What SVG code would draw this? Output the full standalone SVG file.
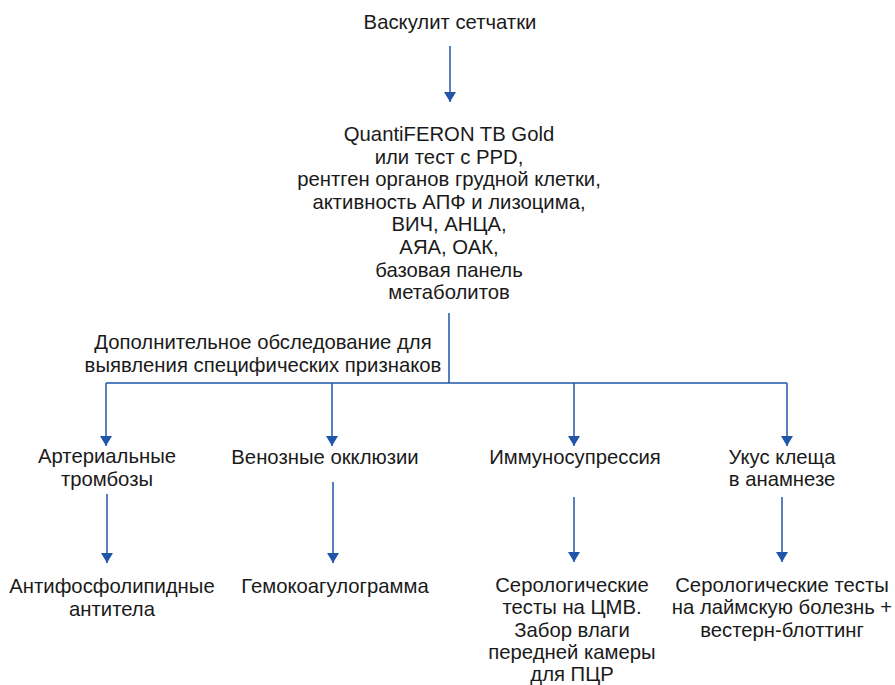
<svg xmlns="http://www.w3.org/2000/svg" width="895" height="685" viewBox="0 0 895 685">
<style>
text{font-family:"Liberation Sans",Arial,sans-serif;font-size:20.3px;fill:#1a1a1a;text-anchor:middle}
.c{fill:none;stroke:#1f56a8;stroke-width:1.5}
</style>
<defs>
<marker id="ah" markerUnits="userSpaceOnUse" markerWidth="11" markerHeight="12" refX="10" refY="6" orient="auto" viewBox="0 0 11 12">
<path d="M0,0 L10,6 L0,12 Z" fill="#1f56a8"/>
</marker>
</defs>
<rect width="895" height="685" fill="#ffffff"/>
<g id="connectors">
<path class="c" d="M450,46 V102" marker-end="url(#ah)"/>
<path class="c" d="M449,313 V383 M106,383 H787"/>
<path class="c" d="M106,383 V446" marker-end="url(#ah)"/>
<path class="c" d="M332,383 V446" marker-end="url(#ah)"/>
<path class="c" d="M574,383 V446" marker-end="url(#ah)"/>
<path class="c" d="M787,383 V446" marker-end="url(#ah)"/>
<path class="c" d="M107,494 V563" marker-end="url(#ah)"/>
<path class="c" d="M333,482 V563" marker-end="url(#ah)"/>
<path class="c" d="M574,497 V562" marker-end="url(#ah)"/>
<path class="c" d="M782,497 V562" marker-end="url(#ah)"/>
</g>
<g id="n-root"><text x="450" y="29">Васкулит сетчатки</text></g>
<g id="n-tests">
<text x="449" y="141">QuantiFERON TB Gold</text>
<text x="449" y="164">или тест с PPD,</text>
<text x="449" y="186">рентген органов грудной клетки,</text>
<text x="449" y="209">активность АПФ и лизоцима,</text>
<text x="449" y="231">ВИЧ, АНЦА,</text>
<text x="449" y="254">АЯА, ОАК,</text>
<text x="449" y="277">базовая панель</text>
<text x="449" y="299">метаболитов</text>
</g>
<g id="n-extra">
<text x="263" y="349">Дополнительное обследование для</text>
<text x="263" y="372">выявления специфических признаков</text>
</g>
<g id="n-arterial">
<text x="107" y="463">Артериальные</text>
<text x="107" y="486">тромбозы</text>
</g>
<g id="n-venous"><text x="325" y="464">Венозные окклюзии</text></g>
<g id="n-immuno"><text x="575" y="464">Иммуносупрессия</text></g>
<g id="n-tick">
<text x="782" y="464">Укус клеща</text>
<text x="782" y="486">в анамнезе</text>
</g>
<g id="n-apl">
<text x="112" y="593">Антифосфолипидные</text>
<text x="112" y="616">антитела</text>
</g>
<g id="n-coag"><text x="335" y="593">Гемокоагулограмма</text></g>
<g id="n-cmv">
<text x="572" y="592">Серологические</text>
<text x="572" y="614">тесты на ЦМВ.</text>
<text x="572" y="637">Забор влаги</text>
<text x="572" y="659">передней камеры</text>
<text x="572" y="681">для ПЦР</text>
</g>
<g id="n-lyme">
<text x="782" y="592">Серологические тесты</text>
<text x="782" y="614">на лаймскую болезнь +</text>
<text x="782" y="637">вестерн-блоттинг</text>
</g>
</svg>
